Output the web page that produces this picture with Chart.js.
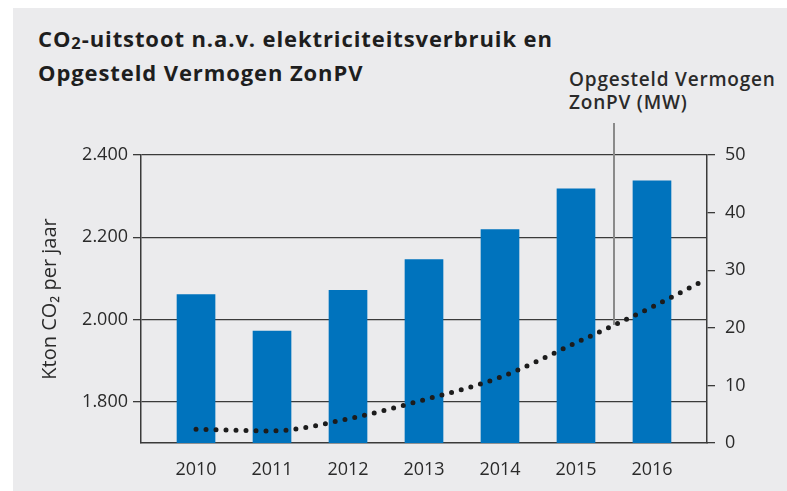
<!DOCTYPE html>
<html>
<head>
<meta charset="utf-8">
<script src="https://cdn.jsdelivr.net/npm/chart.js@4"></script>
<style>
  body { margin: 0; background: #fff; }
  #panel { position: absolute; left: 13px; top: 8px; width: 774px; height: 483px; background: #ebebed; font-family: "Open Sans", sans-serif; color: #222; }
  #title { position: absolute; left: 25px; top: 13px; font-size: 22px; font-weight: 700; letter-spacing: 0.9px; line-height: 34px; white-space: nowrap; color: #1e1e1e; }
  #note { position: absolute; left: 556px; top: 60px; font-size: 19px; font-weight: 600; letter-spacing: 0.8px; line-height: 23px; white-space: nowrap; color: #2a2a2a; }
  sub { font-size: 0.75em; vertical-align: -0.15em; line-height: 0; }
  canvas { position: absolute; left: 0; top: 0; }
</style>
</head>
<body>
<div id="panel">
  <div id="title">CO<sub>2</sub>-uitstoot n.a.v. elektriciteitsverbruik en<br>Opgesteld Vermogen ZonPV</div>
  <div id="note">Opgesteld Vermogen<br>ZonPV (MW)</div>
  <canvas id="chart" width="774" height="483"></canvas>
</div>
<script>
// CO2 emissions (kton per year), bars on the left axis
const years = [2010, 2011, 2012, 2013, 2014, 2015, 2016];
const co2 = [2061, 1972, 2071, 2146, 2219, 2318, 2337];

// installed solar PV (MW), dotted line on the right axis
const pvYears = [2010, 2011, 2012, 2013, 2014, 2015, 2016, 2016.65];
const pvMW = [2.4, 2.1, 4.2, 7.5, 11.4, 17.4, 23.6, 28];

// tick labels
const leftTicks = [1800, 2000, 2200, 2400];
const leftTickLabels = ['1.800', '2.000', '2.200', '2.400'];
const rightTicks = [0, 10, 20, 30, 40, 50];
const rightTickLabels = ['0', '10', '20', '30', '40', '50'];

// where the label's pointer line touches the curve
const noteAt = { x: 2015.5, y: 20.5 };

const barColor = '#0073bd';
const lineColor = '#1c1c1c';
const axisColor = '#3a3a3a';
const tickFont = { family: 'Open Sans', size: 18 };

// gray pointer line from the note down to the curve
const notePointer = {
  id: 'notePointer',
  afterDatasetsDraw(chart) {
    const ctx = chart.ctx;
    const x = chart.scales.x.getPixelForValue(noteAt.x);
    const y = chart.scales.y1.getPixelForValue(noteAt.y);
    ctx.save();
    ctx.strokeStyle = '#8a8a8a';
    ctx.lineWidth = 2;
    ctx.beginPath();
    ctx.moveTo(x, 115);
    ctx.lineTo(x, y);
    ctx.stroke();
    ctx.restore();
  }
};

const ctx = document.getElementById('chart').getContext('2d');
const chart = new Chart(ctx, {
  type: 'bar',
  data: {
    datasets: [
      {
        type: 'line',
        label: 'Opgesteld Vermogen ZonPV (MW)',
        data: pvYears.map((x, i) => ({ x, y: pvMW[i] })),
        yAxisID: 'y1',
        borderColor: lineColor,
        borderWidth: 5,
        borderDash: [0, 10],
        borderCapStyle: 'round',
        cubicInterpolationMode: 'monotone',
        pointRadius: 0,
        fill: false,
        order: 0
      },
      {
        label: 'Kton CO₂ per jaar',
        data: years.map((x, i) => ({ x, y: co2[i] })),
        yAxisID: 'y',
        backgroundColor: barColor,
        barThickness: 38,
        order: 1
      }
    ]
  },
  options: {
    responsive: false,
    animation: false,
    layout: { padding: { top: 147, left: 0, right: 0, bottom: 0 } },
    plugins: {
      legend: { display: false },
      tooltip: { enabled: false }
    },
    scales: {
      x: {
        type: 'linear',
        offset: false,
        min: 2009.276,
        max: 2016.724,
        afterBuildTicks: (axis) => { axis.ticks = years.map(v => ({ value: v })); },
        afterFit: (axis) => { axis.height = 48; },
        grid: { display: false },
        border: { display: true, color: axisColor, width: 1.5 },
        ticks: { color: '#2a2a2a', font: tickFont, padding: 8, maxRotation: 0, callback: (v) => String(v) }
      },
      y: {
        position: 'left',
        min: 1700,
        max: 2400,
        afterBuildTicks: (axis) => { axis.ticks = leftTicks.map(v => ({ value: v })); },
        afterFit: (axis) => { axis.width = 128; },
        grid: { color: axisColor, lineWidth: 1.3, tickLength: 8 },
        border: { display: true, color: axisColor, width: 1.5 },
        ticks: { color: '#2a2a2a', font: tickFont, padding: 5, callback: (v, i) => leftTickLabels[i] },
        title: {
          display: true,
          text: 'Kton CO₂ per jaar',
          color: '#2a2a2a',
          font: { family: 'Open Sans', size: 20 },
          padding: { top: 25, bottom: 0 }
        }
      },
      y1: {
        position: 'right',
        min: 0,
        max: 50,
        afterBuildTicks: (axis) => { axis.ticks = rightTicks.map(v => ({ value: v })); },
        afterFit: (axis) => { axis.width = 80; },
        grid: { drawOnChartArea: false, color: axisColor, lineWidth: 1.3, tickLength: 8 },
        border: { display: true, color: axisColor, width: 1.5 },
        ticks: { color: '#2a2a2a', font: tickFont, padding: 10, callback: (v, i) => rightTickLabels[i] }
      }
    }
  },
  plugins: [notePointer]
});
</script>
</body>
</html>
